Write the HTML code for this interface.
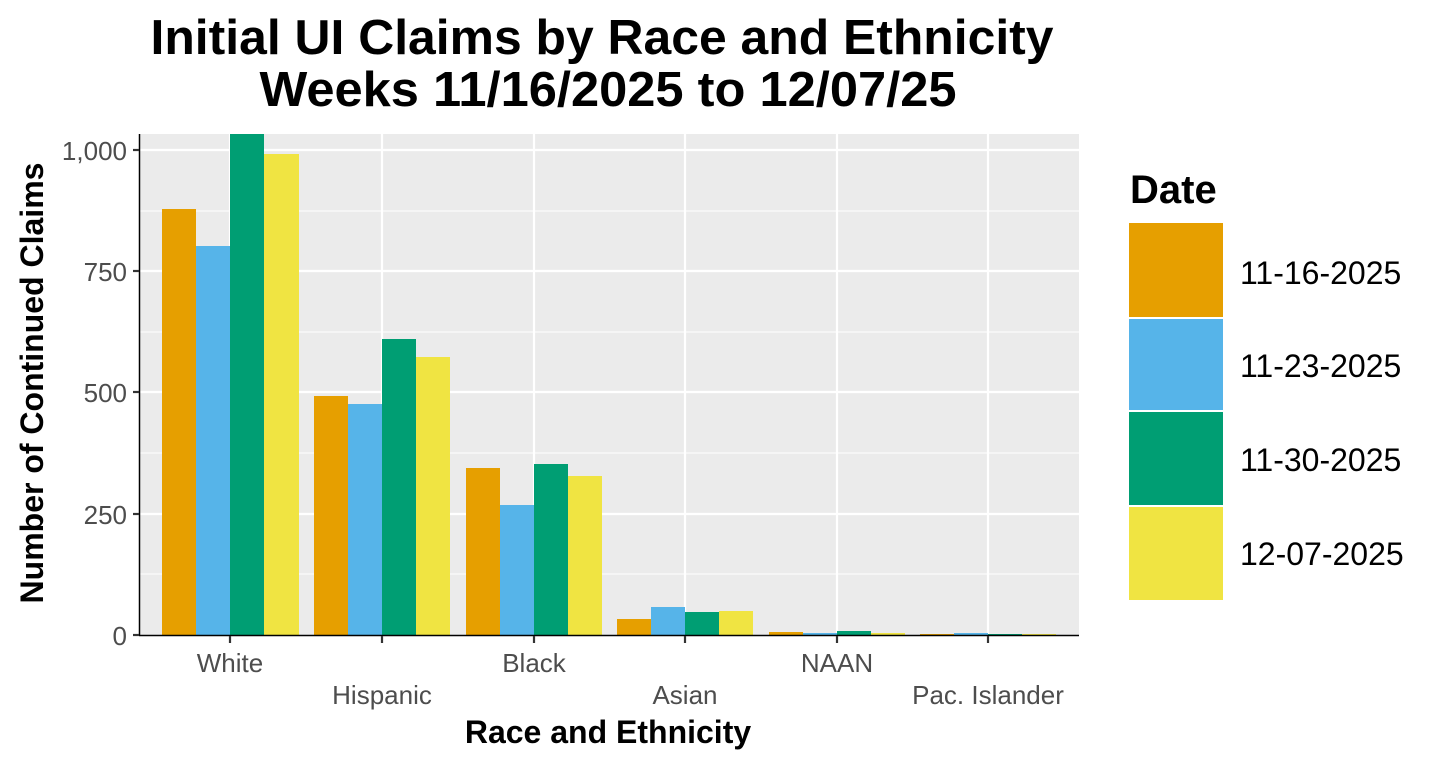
<!DOCTYPE html>
<html><head><meta charset="utf-8"><style>body{margin:0;background:#fff}</style></head><body>
<svg width="1440" height="766" xmlns="http://www.w3.org/2000/svg" font-family="Liberation Sans, Arial, sans-serif">
<rect width="1440" height="766" fill="#fff"/>
<text x="602" y="54" font-size="49" font-weight="bold" text-anchor="middle" textLength="903" lengthAdjust="spacingAndGlyphs">Initial UI Claims by Race and Ethnicity</text>
<text x="608" y="106" font-size="49" font-weight="bold" text-anchor="middle" textLength="697" lengthAdjust="spacingAndGlyphs">Weeks 11/16/2025 to 12/07/25</text>
<rect x="139" y="134" width="940" height="501" fill="#EBEBEB"/>
<g stroke="#fff" stroke-width="1">
<line x1="139" x2="1079" y1="211" y2="211"/><line x1="139" x2="1079" y1="332" y2="332"/><line x1="139" x2="1079" y1="453" y2="453"/><line x1="139" x2="1079" y1="574" y2="574"/>
</g>
<g stroke="#fff" stroke-width="2.2">
<line x1="139" x2="1079" y1="150" y2="150"/><line x1="139" x2="1079" y1="271" y2="271"/><line x1="139" x2="1079" y1="392" y2="392"/><line x1="139" x2="1079" y1="514" y2="514"/>
<line x1="230" x2="230" y1="134" y2="635"/><line x1="382" x2="382" y1="134" y2="635"/><line x1="534" x2="534" y1="134" y2="635"/><line x1="685" x2="685" y1="134" y2="635"/><line x1="837" x2="837" y1="134" y2="635"/><line x1="988" x2="988" y1="134" y2="635"/>
</g>
<g>
<rect x="162" y="209" width="34" height="426" fill="#E69F00"/>
<rect x="196" y="246" width="34" height="389" fill="#56B4E9"/>
<rect x="230" y="134" width="34" height="501" fill="#009E73"/>
<rect x="264" y="154" width="35" height="481" fill="#F0E442"/>
<rect x="314" y="396" width="34" height="239" fill="#E69F00"/>
<rect x="348" y="404" width="34" height="231" fill="#56B4E9"/>
<rect x="382" y="339" width="34" height="296" fill="#009E73"/>
<rect x="416" y="357" width="34" height="278" fill="#F0E442"/>
<rect x="466" y="468" width="34" height="167" fill="#E69F00"/>
<rect x="500" y="505" width="34" height="130" fill="#56B4E9"/>
<rect x="534" y="464" width="34" height="171" fill="#009E73"/>
<rect x="568" y="476" width="34" height="159" fill="#F0E442"/>
<rect x="617" y="619" width="34" height="16" fill="#E69F00"/>
<rect x="651" y="607" width="34" height="28" fill="#56B4E9"/>
<rect x="685" y="612" width="34" height="23" fill="#009E73"/>
<rect x="719" y="611" width="34" height="24" fill="#F0E442"/>
<rect x="769" y="632" width="34" height="3" fill="#E69F00"/>
<rect x="803" y="633" width="34" height="2" fill="#56B4E9"/>
<rect x="837" y="631" width="34" height="4" fill="#009E73"/>
<rect x="871" y="633" width="34" height="2" fill="#F0E442"/>
<rect x="920" y="634" width="34" height="1" fill="#E69F00"/>
<rect x="954" y="633" width="34" height="2" fill="#56B4E9"/>
<rect x="988" y="634" width="34" height="1" fill="#009E73"/>
<rect x="1022" y="634" width="34" height="1" fill="#F0E442"/>
</g>
<line x1="139.5" x2="139.5" y1="134" y2="636" stroke="#000" stroke-width="1.5"/>
<line x1="139" x2="1079" y1="635.5" y2="635.5" stroke="#000" stroke-width="1.5"/>
<g stroke="#333" stroke-width="2.2">
<line x1="133" x2="139" y1="150" y2="150"/><line x1="133" x2="139" y1="271" y2="271"/><line x1="133" x2="139" y1="392" y2="392"/><line x1="133" x2="139" y1="514" y2="514"/><line x1="133" x2="139" y1="635" y2="635"/>
<line x1="230" x2="230" y1="636" y2="643"/><line x1="382" x2="382" y1="636" y2="643"/><line x1="534" x2="534" y1="636" y2="643"/><line x1="685" x2="685" y1="636" y2="643"/><line x1="837" x2="837" y1="636" y2="643"/><line x1="988" x2="988" y1="636" y2="643"/>
</g>
<g font-size="26" fill="#4D4D4D" text-anchor="end">
<text x="127" y="160">1,000</text><text x="127" y="281">750</text><text x="127" y="402">500</text><text x="127" y="524">250</text><text x="127" y="645">0</text>
</g>
<g font-size="26" fill="#4D4D4D" text-anchor="middle">
<text x="230" y="672">White</text><text x="382" y="704">Hispanic</text><text x="534" y="672">Black</text><text x="685" y="704">Asian</text><text x="837" y="672">NAAN</text><text x="988" y="704">Pac. Islander</text>
</g>
<text x="608" y="743" font-size="32" font-weight="bold" text-anchor="middle">Race and Ethnicity</text>
<text transform="translate(43,383) rotate(-90)" font-size="32" font-weight="bold" text-anchor="middle">Number of Continued Claims</text>
<text x="1130" y="203" font-size="40" font-weight="bold">Date</text>
<rect x="1129" y="223" width="94" height="94" fill="#E69F00"/>
<rect x="1129" y="319" width="94" height="91" fill="#56B4E9"/>
<rect x="1129" y="412" width="94" height="93" fill="#009E73"/>
<rect x="1129" y="507" width="94" height="93" fill="#F0E442"/>
<g font-size="32">
<text x="1240" y="284">11-16-2025</text><text x="1240" y="377">11-23-2025</text><text x="1240" y="471">11-30-2025</text><text x="1240" y="565">12-07-2025</text>
</g>
</svg>
</body></html>
